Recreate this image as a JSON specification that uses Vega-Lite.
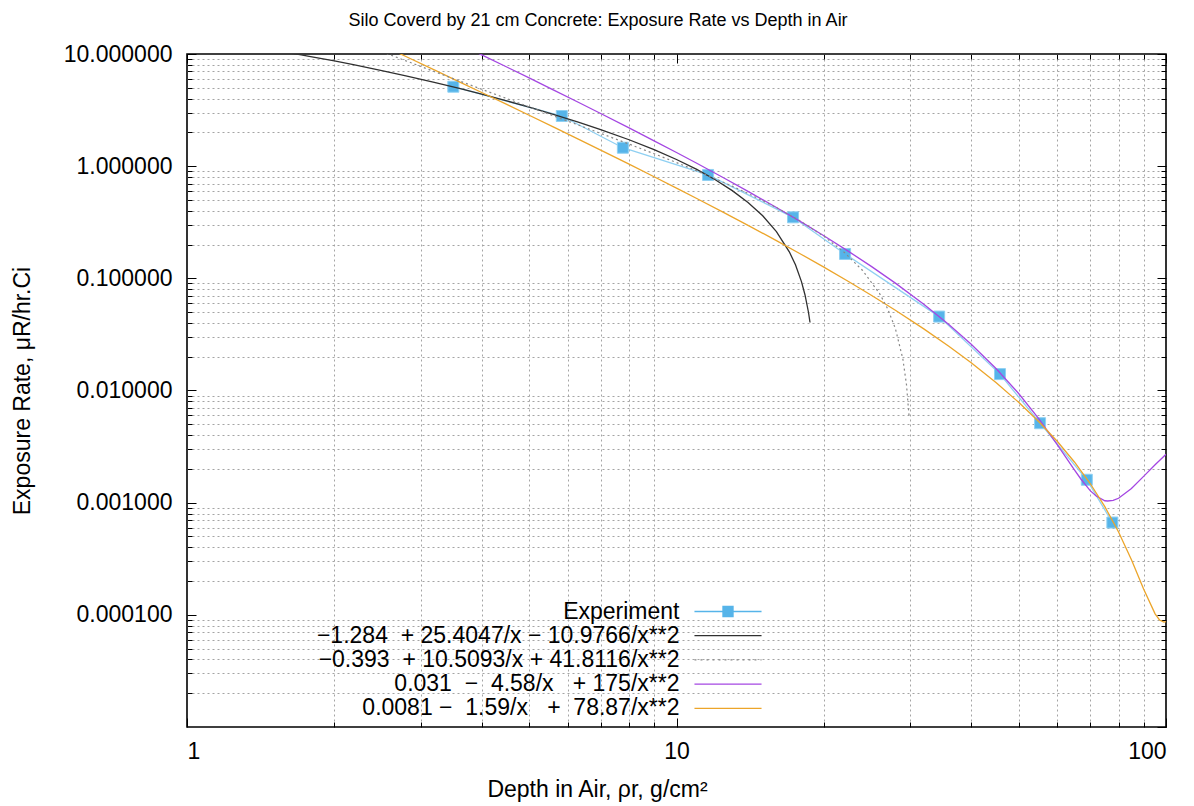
{
  "$schema": "https://vega.github.io/schema/vega-lite/v6.json",
  "width": 979,
  "height": 673,
  "autosize": {"type": "none"},
  "padding": {"left": 187, "top": 54, "right": 28, "bottom": 79},
  "background": "white",
  "config": {
    "view": {"stroke": "#000", "strokeWidth": 1.6},
    "font": "Liberation Sans",
    "axis": {
      "labelFont": "Liberation Sans", "titleFont": "Liberation Sans",
      "labelColor": "#000", "titleColor": "#000", "titleFontWeight": "normal",
      "tickColor": "#000", "tickWidth": 1, "domain": false,
      "labelFontSize": 23, "titleFontSize": 23
    }
  },
  "title": {
    "text": "Silo Coverd by 21 cm Concrete: Exposure Rate vs Depth in Air",
    "font": "Liberation Sans", "fontSize": 18, "fontWeight": "normal",
    "anchor": "middle", "frame": "group", "dx": -78.5, "offset": 13, "color": "#000"
  },
  "datasets": {
    "exp": [
      {"x": 3.5, "y": 5.11}, {"x": 5.83, "y": 2.80}, {"x": 7.77, "y": 1.46},
      {"x": 11.6, "y": 0.835}, {"x": 17.3, "y": 0.350}, {"x": 22.1, "y": 0.165},
      {"x": 34.4, "y": 0.0456}, {"x": 45.8, "y": 0.0140}, {"x": 55.3, "y": 0.00511},
      {"x": 68.9, "y": 0.00160}, {"x": 77.7, "y": 0.000665}
    ],
    "fits": [
      {"series": "−1.284\u00a0\u00a0+ 25.4047/x − 10.9766/x**2", "x": 1.6, "y": 10.306},
      {"series": "−1.284\u00a0\u00a0+ 25.4047/x − 10.9766/x**2", "x": 1.7, "y": 9.8617},
      {"series": "−1.284\u00a0\u00a0+ 25.4047/x − 10.9766/x**2", "x": 1.8, "y": 9.4419},
      {"series": "−1.284\u00a0\u00a0+ 25.4047/x − 10.9766/x**2", "x": 2.0, "y": 8.6742},
      {"series": "−1.284\u00a0\u00a0+ 25.4047/x − 10.9766/x**2", "x": 2.2, "y": 7.9957},
      {"series": "−1.284\u00a0\u00a0+ 25.4047/x − 10.9766/x**2", "x": 2.5, "y": 7.1216},
      {"series": "−1.284\u00a0\u00a0+ 25.4047/x − 10.9766/x**2", "x": 2.8, "y": 6.389},
      {"series": "−1.284\u00a0\u00a0+ 25.4047/x − 10.9766/x**2", "x": 3.2, "y": 5.583},
      {"series": "−1.284\u00a0\u00a0+ 25.4047/x − 10.9766/x**2", "x": 3.6, "y": 4.9259},
      {"series": "−1.284\u00a0\u00a0+ 25.4047/x − 10.9766/x**2", "x": 4, "y": 4.3811},
      {"series": "−1.284\u00a0\u00a0+ 25.4047/x − 10.9766/x**2", "x": 4.5, "y": 3.8194},
      {"series": "−1.284\u00a0\u00a0+ 25.4047/x − 10.9766/x**2", "x": 5, "y": 3.3579},
      {"series": "−1.284\u00a0\u00a0+ 25.4047/x − 10.9766/x**2", "x": 5.6, "y": 2.9025},
      {"series": "−1.284\u00a0\u00a0+ 25.4047/x − 10.9766/x**2", "x": 6.3, "y": 2.4719},
      {"series": "−1.284\u00a0\u00a0+ 25.4047/x − 10.9766/x**2", "x": 7, "y": 2.1212},
      {"series": "−1.284\u00a0\u00a0+ 25.4047/x − 10.9766/x**2", "x": 8, "y": 1.7201},
      {"series": "−1.284\u00a0\u00a0+ 25.4047/x − 10.9766/x**2", "x": 9, "y": 1.4032},
      {"series": "−1.284\u00a0\u00a0+ 25.4047/x − 10.9766/x**2", "x": 10, "y": 1.1467},
      {"series": "−1.284\u00a0\u00a0+ 25.4047/x − 10.9766/x**2", "x": 11, "y": 0.9348},
      {"series": "−1.284\u00a0\u00a0+ 25.4047/x − 10.9766/x**2", "x": 12, "y": 0.7568},
      {"series": "−1.284\u00a0\u00a0+ 25.4047/x − 10.9766/x**2", "x": 13, "y": 0.6053},
      {"series": "−1.284\u00a0\u00a0+ 25.4047/x − 10.9766/x**2", "x": 14, "y": 0.4746},
      {"series": "−1.284\u00a0\u00a0+ 25.4047/x − 10.9766/x**2", "x": 15, "y": 0.3609},
      {"series": "−1.284\u00a0\u00a0+ 25.4047/x − 10.9766/x**2", "x": 16, "y": 0.2609},
      {"series": "−1.284\u00a0\u00a0+ 25.4047/x − 10.9766/x**2", "x": 17, "y": 0.1724},
      {"series": "−1.284\u00a0\u00a0+ 25.4047/x − 10.9766/x**2", "x": 17.5, "y": 0.1319},
      {"series": "−1.284\u00a0\u00a0+ 25.4047/x − 10.9766/x**2", "x": 18, "y": 0.0935},
      {"series": "−1.284\u00a0\u00a0+ 25.4047/x − 10.9766/x**2", "x": 18.3, "y": 0.07145},
      {"series": "−1.284\u00a0\u00a0+ 25.4047/x − 10.9766/x**2", "x": 18.6, "y": 0.05011},
      {"series": "−1.284\u00a0\u00a0+ 25.4047/x − 10.9766/x**2", "x": 18.74, "y": 0.0404},
      {"series": "0.031\u00a0\u00a0−\u00a0\u00a04.58/x\u00a0\u00a0\u00a0+ 175/x**2", "x": 3.9, "y": 10.362},
      {"series": "0.031\u00a0\u00a0−\u00a0\u00a04.58/x\u00a0\u00a0\u00a0+ 175/x**2", "x": 4, "y": 9.8235},
      {"series": "0.031\u00a0\u00a0−\u00a0\u00a04.58/x\u00a0\u00a0\u00a0+ 175/x**2", "x": 4.5, "y": 7.6552},
      {"series": "0.031\u00a0\u00a0−\u00a0\u00a04.58/x\u00a0\u00a0\u00a0+ 175/x**2", "x": 5, "y": 6.115},
      {"series": "0.031\u00a0\u00a0−\u00a0\u00a04.58/x\u00a0\u00a0\u00a0+ 175/x**2", "x": 5.6, "y": 4.7935},
      {"series": "0.031\u00a0\u00a0−\u00a0\u00a04.58/x\u00a0\u00a0\u00a0+ 175/x**2", "x": 6.3, "y": 3.7132},
      {"series": "0.031\u00a0\u00a0−\u00a0\u00a04.58/x\u00a0\u00a0\u00a0+ 175/x**2", "x": 7, "y": 2.9481},
      {"series": "0.031\u00a0\u00a0−\u00a0\u00a04.58/x\u00a0\u00a0\u00a0+ 175/x**2", "x": 8, "y": 2.1929},
      {"series": "0.031\u00a0\u00a0−\u00a0\u00a04.58/x\u00a0\u00a0\u00a0+ 175/x**2", "x": 9, "y": 1.6826},
      {"series": "0.031\u00a0\u00a0−\u00a0\u00a04.58/x\u00a0\u00a0\u00a0+ 175/x**2", "x": 10, "y": 1.323},
      {"series": "0.031\u00a0\u00a0−\u00a0\u00a04.58/x\u00a0\u00a0\u00a0+ 175/x**2", "x": 11, "y": 1.0609},
      {"series": "0.031\u00a0\u00a0−\u00a0\u00a04.58/x\u00a0\u00a0\u00a0+ 175/x**2", "x": 12.5, "y": 0.7846},
      {"series": "0.031\u00a0\u00a0−\u00a0\u00a04.58/x\u00a0\u00a0\u00a0+ 175/x**2", "x": 14, "y": 0.5967},
      {"series": "0.031\u00a0\u00a0−\u00a0\u00a04.58/x\u00a0\u00a0\u00a0+ 175/x**2", "x": 16, "y": 0.4283},
      {"series": "0.031\u00a0\u00a0−\u00a0\u00a04.58/x\u00a0\u00a0\u00a0+ 175/x**2", "x": 18, "y": 0.3167},
      {"series": "0.031\u00a0\u00a0−\u00a0\u00a04.58/x\u00a0\u00a0\u00a0+ 175/x**2", "x": 20, "y": 0.2395},
      {"series": "0.031\u00a0\u00a0−\u00a0\u00a04.58/x\u00a0\u00a0\u00a0+ 175/x**2", "x": 22.5, "y": 0.1731},
      {"series": "0.031\u00a0\u00a0−\u00a0\u00a04.58/x\u00a0\u00a0\u00a0+ 175/x**2", "x": 25, "y": 0.1278},
      {"series": "0.031\u00a0\u00a0−\u00a0\u00a04.58/x\u00a0\u00a0\u00a0+ 175/x**2", "x": 28, "y": 0.09064},
      {"series": "0.031\u00a0\u00a0−\u00a0\u00a04.58/x\u00a0\u00a0\u00a0+ 175/x**2", "x": 32, "y": 0.05877},
      {"series": "0.031\u00a0\u00a0−\u00a0\u00a04.58/x\u00a0\u00a0\u00a0+ 175/x**2", "x": 36, "y": 0.03881},
      {"series": "0.031\u00a0\u00a0−\u00a0\u00a04.58/x\u00a0\u00a0\u00a0+ 175/x**2", "x": 40, "y": 0.02588},
      {"series": "0.031\u00a0\u00a0−\u00a0\u00a04.58/x\u00a0\u00a0\u00a0+ 175/x**2", "x": 45, "y": 0.01564},
      {"series": "0.031\u00a0\u00a0−\u00a0\u00a04.58/x\u00a0\u00a0\u00a0+ 175/x**2", "x": 50, "y": 0.0094},
      {"series": "0.031\u00a0\u00a0−\u00a0\u00a04.58/x\u00a0\u00a0\u00a0+ 175/x**2", "x": 55, "y": 0.00558},
      {"series": "0.031\u00a0\u00a0−\u00a0\u00a04.58/x\u00a0\u00a0\u00a0+ 175/x**2", "x": 60, "y": 0.00328},
      {"series": "0.031\u00a0\u00a0−\u00a0\u00a04.58/x\u00a0\u00a0\u00a0+ 175/x**2", "x": 65, "y": 0.00196},
      {"series": "0.031\u00a0\u00a0−\u00a0\u00a04.58/x\u00a0\u00a0\u00a0+ 175/x**2", "x": 67, "y": 0.001626},
      {"series": "0.031\u00a0\u00a0−\u00a0\u00a04.58/x\u00a0\u00a0\u00a0+ 175/x**2", "x": 70, "y": 0.00128},
      {"series": "0.031\u00a0\u00a0−\u00a0\u00a04.58/x\u00a0\u00a0\u00a0+ 175/x**2", "x": 72, "y": 0.001147},
      {"series": "0.031\u00a0\u00a0−\u00a0\u00a04.58/x\u00a0\u00a0\u00a0+ 175/x**2", "x": 75, "y": 0.00104},
      {"series": "0.031\u00a0\u00a0−\u00a0\u00a04.58/x\u00a0\u00a0\u00a0+ 175/x**2", "x": 76, "y": 0.001035},
      {"series": "0.031\u00a0\u00a0−\u00a0\u00a04.58/x\u00a0\u00a0\u00a0+ 175/x**2", "x": 78, "y": 0.001046},
      {"series": "0.031\u00a0\u00a0−\u00a0\u00a04.58/x\u00a0\u00a0\u00a0+ 175/x**2", "x": 80, "y": 0.001094},
      {"series": "0.031\u00a0\u00a0−\u00a0\u00a04.58/x\u00a0\u00a0\u00a0+ 175/x**2", "x": 85, "y": 0.001339},
      {"series": "0.031\u00a0\u00a0−\u00a0\u00a04.58/x\u00a0\u00a0\u00a0+ 175/x**2", "x": 90, "y": 0.001716},
      {"series": "0.031\u00a0\u00a0−\u00a0\u00a04.58/x\u00a0\u00a0\u00a0+ 175/x**2", "x": 95, "y": 0.00218},
      {"series": "0.031\u00a0\u00a0−\u00a0\u00a04.58/x\u00a0\u00a0\u00a0+ 175/x**2", "x": 100, "y": 0.0027},
      {"series": "0.0081 −\u00a0\u00a01.59/x\u00a0\u00a0\u00a0+\u00a0\u00a078.87/x**2", "x": 2.7, "y": 10.238},
      {"series": "0.0081 −\u00a0\u00a01.59/x\u00a0\u00a0\u00a0+\u00a0\u00a078.87/x**2", "x": 2.8, "y": 9.5002},
      {"series": "0.0081 −\u00a0\u00a01.59/x\u00a0\u00a0\u00a0+\u00a0\u00a078.87/x**2", "x": 3.2, "y": 7.2134},
      {"series": "0.0081 −\u00a0\u00a01.59/x\u00a0\u00a0\u00a0+\u00a0\u00a078.87/x**2", "x": 3.6, "y": 5.6521},
      {"series": "0.0081 −\u00a0\u00a01.59/x\u00a0\u00a0\u00a0+\u00a0\u00a078.87/x**2", "x": 4, "y": 4.54},
      {"series": "0.0081 −\u00a0\u00a01.59/x\u00a0\u00a0\u00a0+\u00a0\u00a078.87/x**2", "x": 4.5, "y": 3.5496},
      {"series": "0.0081 −\u00a0\u00a01.59/x\u00a0\u00a0\u00a0+\u00a0\u00a078.87/x**2", "x": 5, "y": 2.8449},
      {"series": "0.0081 −\u00a0\u00a01.59/x\u00a0\u00a0\u00a0+\u00a0\u00a078.87/x**2", "x": 5.6, "y": 2.2392},
      {"series": "0.0081 −\u00a0\u00a01.59/x\u00a0\u00a0\u00a0+\u00a0\u00a078.87/x**2", "x": 6.3, "y": 1.7429},
      {"series": "0.0081 −\u00a0\u00a01.59/x\u00a0\u00a0\u00a0+\u00a0\u00a078.87/x**2", "x": 7, "y": 1.3905},
      {"series": "0.0081 −\u00a0\u00a01.59/x\u00a0\u00a0\u00a0+\u00a0\u00a078.87/x**2", "x": 8, "y": 1.0417},
      {"series": "0.0081 −\u00a0\u00a01.59/x\u00a0\u00a0\u00a0+\u00a0\u00a078.87/x**2", "x": 9, "y": 0.8051},
      {"series": "0.0081 −\u00a0\u00a01.59/x\u00a0\u00a0\u00a0+\u00a0\u00a078.87/x**2", "x": 10, "y": 0.6378},
      {"series": "0.0081 −\u00a0\u00a01.59/x\u00a0\u00a0\u00a0+\u00a0\u00a078.87/x**2", "x": 11, "y": 0.5154},
      {"series": "0.0081 −\u00a0\u00a01.59/x\u00a0\u00a0\u00a0+\u00a0\u00a078.87/x**2", "x": 12.5, "y": 0.3857},
      {"series": "0.0081 −\u00a0\u00a01.59/x\u00a0\u00a0\u00a0+\u00a0\u00a078.87/x**2", "x": 14, "y": 0.2969},
      {"series": "0.0081 −\u00a0\u00a01.59/x\u00a0\u00a0\u00a0+\u00a0\u00a078.87/x**2", "x": 16, "y": 0.2168},
      {"series": "0.0081 −\u00a0\u00a01.59/x\u00a0\u00a0\u00a0+\u00a0\u00a078.87/x**2", "x": 18, "y": 0.1632},
      {"series": "0.0081 −\u00a0\u00a01.59/x\u00a0\u00a0\u00a0+\u00a0\u00a078.87/x**2", "x": 20, "y": 0.1258},
      {"series": "0.0081 −\u00a0\u00a01.59/x\u00a0\u00a0\u00a0+\u00a0\u00a078.87/x**2", "x": 22.5, "y": 0.09322},
      {"series": "0.0081 −\u00a0\u00a01.59/x\u00a0\u00a0\u00a0+\u00a0\u00a078.87/x**2", "x": 25, "y": 0.07069},
      {"series": "0.0081 −\u00a0\u00a01.59/x\u00a0\u00a0\u00a0+\u00a0\u00a078.87/x**2", "x": 28, "y": 0.05191},
      {"series": "0.0081 −\u00a0\u00a01.59/x\u00a0\u00a0\u00a0+\u00a0\u00a078.87/x**2", "x": 32, "y": 0.03543},
      {"series": "0.0081 −\u00a0\u00a01.59/x\u00a0\u00a0\u00a0+\u00a0\u00a078.87/x**2", "x": 36, "y": 0.02479},
      {"series": "0.0081 −\u00a0\u00a01.59/x\u00a0\u00a0\u00a0+\u00a0\u00a078.87/x**2", "x": 40, "y": 0.01764},
      {"series": "0.0081 −\u00a0\u00a01.59/x\u00a0\u00a0\u00a0+\u00a0\u00a078.87/x**2", "x": 45, "y": 0.01172},
      {"series": "0.0081 −\u00a0\u00a01.59/x\u00a0\u00a0\u00a0+\u00a0\u00a078.87/x**2", "x": 50, "y": 0.007848},
      {"series": "0.0081 −\u00a0\u00a01.59/x\u00a0\u00a0\u00a0+\u00a0\u00a078.87/x**2", "x": 55, "y": 0.005264},
      {"series": "0.0081 −\u00a0\u00a01.59/x\u00a0\u00a0\u00a0+\u00a0\u00a078.87/x**2", "x": 60, "y": 0.003508},
      {"series": "0.0081 −\u00a0\u00a01.59/x\u00a0\u00a0\u00a0+\u00a0\u00a078.87/x**2", "x": 65, "y": 0.002305},
      {"series": "0.0081 −\u00a0\u00a01.59/x\u00a0\u00a0\u00a0+\u00a0\u00a078.87/x**2", "x": 70, "y": 0.001482},
      {"series": "0.0081 −\u00a0\u00a01.59/x\u00a0\u00a0\u00a0+\u00a0\u00a078.87/x**2", "x": 75, "y": 0.000921},
      {"series": "0.0081 −\u00a0\u00a01.59/x\u00a0\u00a0\u00a0+\u00a0\u00a078.87/x**2", "x": 80, "y": 0.000548},
      {"series": "0.0081 −\u00a0\u00a01.59/x\u00a0\u00a0\u00a0+\u00a0\u00a078.87/x**2", "x": 85, "y": 0.00031},
      {"series": "0.0081 −\u00a0\u00a01.59/x\u00a0\u00a0\u00a0+\u00a0\u00a078.87/x**2", "x": 90, "y": 0.00017},
      {"series": "0.0081 −\u00a0\u00a01.59/x\u00a0\u00a0\u00a0+\u00a0\u00a078.87/x**2", "x": 95, "y": 0.000102},
      {"series": "0.0081 −\u00a0\u00a01.59/x\u00a0\u00a0\u00a0+\u00a0\u00a078.87/x**2", "x": 97, "y": 0.00009},
      {"series": "0.0081 −\u00a0\u00a01.59/x\u00a0\u00a0\u00a0+\u00a0\u00a078.87/x**2", "x": 99, "y": 0.0000861},
      {"series": "0.0081 −\u00a0\u00a01.59/x\u00a0\u00a0\u00a0+\u00a0\u00a078.87/x**2", "x": 100, "y": 0.000087}
    ],
    "dotted": [
      {"x": 2.5, "y": 10.5006}, {"x": 2.8, "y": 8.6934}, {"x": 3.2, "y": 6.9743},
      {"x": 3.6, "y": 5.7525}, {"x": 4, "y": 4.8476}, {"x": 4.5, "y": 4.0072},
      {"x": 5, "y": 3.3813}, {"x": 5.6, "y": 2.817}, {"x": 6.3, "y": 2.3286},
      {"x": 7, "y": 1.9616}, {"x": 8, "y": 1.574}, {"x": 9, "y": 1.2909},
      {"x": 10, "y": 1.076}, {"x": 11, "y": 0.9079}, {"x": 12.5, "y": 0.7153},
      {"x": 14, "y": 0.571}, {"x": 16, "y": 0.4272}, {"x": 18, "y": 0.3199},
      {"x": 20, "y": 0.237}, {"x": 22, "y": 0.1711}, {"x": 24, "y": 0.1175},
      {"x": 26, "y": 0.07305}, {"x": 27, "y": 0.05359}, {"x": 28, "y": 0.03566},
      {"x": 29, "y": 0.01911}, {"x": 29.5, "y": 0.0113}, {"x": 29.85, "y": 0.006}
    ]
  },
  "layer": [
    {
      "data": {"name": "exp"},
      "mark": {"type": "line", "color": "#8fd0f2", "strokeWidth": 1.3, "clip": true},
      "encoding": {
        "x": {"field": "x", "type": "quantitative",
          "scale": {"type": "log", "domain": [1, 100], "nice": false},
          "axis": {"orient": "bottom", "values": [1, 10, 100], "format": "d", "tickSize": -9,
            "labelPadding": 22, "grid": false,
            "title": "Depth in Air, ρr, g/cm²", "titleX": 410, "titleY": 62, "titleBaseline": "middle"}},
        "y": {"field": "y", "type": "quantitative",
          "scale": {"type": "log", "domain": [0.00001, 10], "nice": false},
          "axis": {"orient": "left", "values": [0.0001, 0.001, 0.01, 0.1, 1, 10], "format": ".6f",
            "tickSize": -9, "labelPadding": 24, "grid": false,
            "title": "Exposure Rate, μR/hr.Ci", "titleX": -165, "titleY": 336.5, "titleBaseline": "middle", "titleAngle": -90}}
      }
    },
    {
      "data": {"name": "exp"},
      "mark": {"type": "point", "shape": "square", "filled": true, "size": 121, "color": "#56B4E9",
        "stroke": "#8fd0f2", "strokeWidth": 1, "opacity": 1, "clip": true},
      "encoding": {
        "x": {"field": "x", "type": "quantitative",
          "scale": {"type": "log", "domain": [1, 100], "nice": false},
          "axis": {"orient": "bottom", "values": [2, 3, 4, 5, 6, 7, 8, 9, 20, 30, 40, 50, 60, 70, 80, 90],
            "tickSize": -5, "labels": false, "title": null, "grid": true,
            "gridDash": [2, 3], "gridColor": "#a4a4a4", "gridWidth": 1}},
        "y": {"field": "y", "type": "quantitative",
          "scale": {"type": "log", "domain": [0.00001, 10], "nice": false},
          "axis": {"orient": "left",
            "values": [0.00002, 0.00003, 0.00004, 0.00005, 0.00006, 0.00007, 0.00008, 0.00009,
              0.0002, 0.0003, 0.0004, 0.0005, 0.0006, 0.0007, 0.0008, 0.0009,
              0.002, 0.003, 0.004, 0.005, 0.006, 0.007, 0.008, 0.009,
              0.02, 0.03, 0.04, 0.05, 0.06, 0.07, 0.08, 0.09,
              0.2, 0.3, 0.4, 0.5, 0.6, 0.7, 0.8, 0.9,
              2, 3, 4, 5, 6, 7, 8, 9],
            "tickSize": -5, "labels": false, "title": null, "grid": true,
            "gridDash": [2, 3], "gridColor": "#a4a4a4", "gridWidth": 1}}
      }
    },
    {
      "data": {"name": "fits"},
      "mark": {"type": "line", "strokeWidth": 1.3, "clip": true},
      "encoding": {
        "x": {"field": "x", "type": "quantitative",
          "scale": {"type": "log", "domain": [1, 100], "nice": false},
          "axis": {"orient": "top", "values": [1, 10, 100], "tickSize": -9, "labels": false, "title": null, "grid": false}},
        "y": {"field": "y", "type": "quantitative",
          "scale": {"type": "log", "domain": [0.00001, 10], "nice": false},
          "axis": {"orient": "right", "values": [0.00001, 0.0001, 0.001, 0.01, 0.1, 1, 10], "tickSize": -9, "labels": false, "title": null, "grid": false}},
        "color": {"field": "series", "type": "nominal",
          "scale": {
            "domain": ["Experiment", "−1.284\u00a0\u00a0+ 25.4047/x − 10.9766/x**2", "−0.393\u00a0\u00a0+ 10.5093/x + 41.8116/x**2", "0.031\u00a0\u00a0−\u00a0\u00a04.58/x\u00a0\u00a0\u00a0+ 175/x**2", "0.0081 −\u00a0\u00a01.59/x\u00a0\u00a0\u00a0+\u00a0\u00a078.87/x**2"],
            "range": ["#56B4E9", "#303030", "#888888", "#a446e2", "#eca52a"]},
          "legend": {
            "orient": "none", "legendX": 0, "legendY": 546, "title": null, "padding": 0,
            "labelFont": "Liberation Sans", "labelFontSize": 23, "labelColor": "#000",
            "labelAlign": "right", "labelOffset": -60, "labelLimit": 700,
            "symbolOffset": 529.5, "symbolSize": 180, "symbolStrokeWidth": 1.3, "symbolType": "stroke",
            "rowPadding": 0.2,
            "encode": {
              "symbols": {
                "update": {
                  "shape": {"signal": "datum.index === 0 ? 'M-5,0H5M-0.75,-0.75H0.75V0.75H-0.75Z' : 'M-5,0H5'"},
                  "fill": {"signal": "datum.index === 0 ? '#56B4E9' : 'transparent'"},
                  "stroke": {"signal": "datum.index === 0 ? '#8fd0f2' : datum.index === 1 ? '#303030' : datum.index === 2 ? '#888888' : datum.index === 3 ? '#a446e2' : '#eca52a'"},
                  "strokeDash": {"signal": "datum.index === 2 ? [2, 4] : [1, 0]"},
                  "strokeWidth": {"value": 1.3},
                  "opacity": {"value": 1}
                }
              }
            }
          }
        }
      }
    },
    {
      "data": {"name": "dotted"},
      "mark": {"type": "line", "strokeWidth": 1.2, "color": "#888888", "strokeDash": [2, 3], "clip": true},
      "encoding": {
        "x": {"field": "x", "type": "quantitative",
          "scale": {"type": "log", "domain": [1, 100], "nice": false},
          "axis": {"orient": "top", "values": [2, 3, 4, 5, 6, 7, 8, 9, 20, 30, 40, 50, 60, 70, 80, 90],
            "tickSize": -5, "labels": false, "title": null, "grid": false}},
        "y": {"field": "y", "type": "quantitative",
          "scale": {"type": "log", "domain": [0.00001, 10], "nice": false},
          "axis": {"orient": "right",
            "values": [0.00002, 0.00003, 0.00004, 0.00005, 0.00006, 0.00007, 0.00008, 0.00009,
              0.0002, 0.0003, 0.0004, 0.0005, 0.0006, 0.0007, 0.0008, 0.0009,
              0.002, 0.003, 0.004, 0.005, 0.006, 0.007, 0.008, 0.009,
              0.02, 0.03, 0.04, 0.05, 0.06, 0.07, 0.08, 0.09,
              0.2, 0.3, 0.4, 0.5, 0.6, 0.7, 0.8, 0.9,
              2, 3, 4, 5, 6, 7, 8, 9],
            "tickSize": -5, "labels": false, "title": null, "grid": false}}
      }
    }
  ],
  "resolve": {"axis": {"x": "independent", "y": "independent"}}
}
